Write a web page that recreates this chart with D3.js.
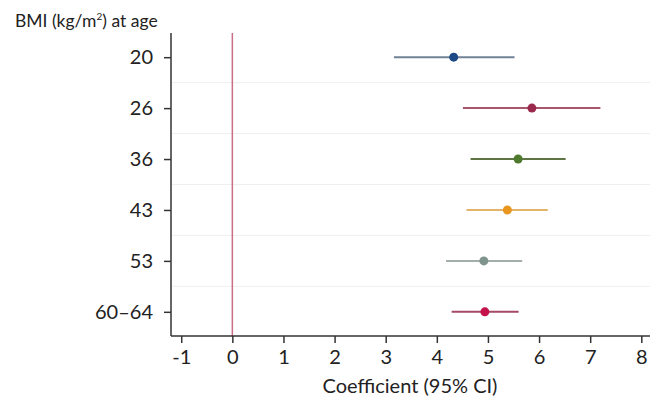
<!DOCTYPE html>
<html><head><meta charset="utf-8">
<script src="https://cdn.jsdelivr.net/npm/d3@7"></script>
<style>
body{margin:0;background:#fff;}
text{font-family:Lato,"Open Sans",sans-serif;fill:#222;}
</style></head>
<body><svg id="c" width="654" height="401"></svg>
<script>
const categories = ["20","26","36","43","53","60\u201364"];
const estimates  = [4.33, 5.86, 5.59, 5.38, 4.92, 4.94];
const lowerCI    = [3.16, 4.51, 4.66, 4.58, 4.18, 4.29];
const upperCI    = [5.52, 7.20, 6.52, 6.17, 5.67, 5.60];
const dotColors  = ["#1d4a86","#9a2a4c","#4f7a2e","#e8961e","#7f948c","#c4124a"];
const lineColors = ["#6f8296","#a8566e","#5e7444","#e2b46a","#a3aeab","#a64866"];
const xTicks = [-1,0,1,2,3,4,5,6,7,8];

const svg = d3.select("#c");
const x = d3.scaleLinear().domain([-1.2, 8.17]).range([171, 650]);
const y = d3.scalePoint().domain(categories).range([33, 336]).padding(0.475);
const step = y.step();

svg.append("g").selectAll("line").data(categories.slice(0,-1)).join("line")
  .attr("x1", 172).attr("x2", 650)
  .attr("y1", d => y(d) + step/2).attr("y2", d => y(d) + step/2)
  .attr("stroke", "#efefef").attr("stroke-width", 1);

svg.append("line").attr("x1", x(0)).attr("x2", x(0)).attr("y1", 33).attr("y2", 336)
  .attr("stroke", "#cc6c86").attr("stroke-width", 1.5);

const data = categories.map((c,i)=>({c, est:estimates[i], lo:lowerCI[i], hi:upperCI[i], dc:dotColors[i], lc:lineColors[i]}));
svg.append("g").selectAll("line").data(data).join("line")
  .attr("x1", d => x(d.lo)).attr("x2", d => x(d.hi))
  .attr("y1", d => y(d.c)).attr("y2", d => y(d.c))
  .attr("stroke", d => d.lc).attr("stroke-width", 2);
svg.append("g").selectAll("circle").data(data).join("circle")
  .attr("cx", d => x(d.est)).attr("cy", d => y(d.c)).attr("r", 4.5)
  .attr("fill", d => d.dc);

const xAxis = d3.axisBottom(x).tickValues(xTicks).tickSize(7).tickPadding(7).tickFormat(d => String(d));
const gx = svg.append("g").attr("transform", "translate(0,336)").call(xAxis);
gx.select(".domain").attr("d", "M171,0H650").attr("stroke", "#333").attr("stroke-width", 1.5);
gx.selectAll(".tick line").attr("stroke", "#333").attr("stroke-width", 1.5);
gx.selectAll("text").attr("font-size", 20).attr("fill", "#222").style("font-family","Lato,sans-serif");

const yAxis = d3.axisLeft(y).tickSize(7).tickPadding(11);
const gy = svg.append("g").attr("transform", "translate(171,0)").call(yAxis);
gy.select(".domain").attr("d", "M0,33V336").attr("stroke", "#333").attr("stroke-width", 1.5);
gy.selectAll(".tick line").attr("stroke", "#333").attr("stroke-width", 1.5);
gy.selectAll("text").attr("font-size", 20).attr("fill", "#222").style("font-family","Lato,sans-serif");

const yt = svg.append("text").attr("x", 15).attr("y", 27).attr("font-size", 17.5);
yt.append("tspan").text("BMI (kg/m");
yt.append("tspan").attr("font-size", 10).attr("dy", -7).text("2");
yt.append("tspan").attr("dy", 7).text(") at age");

svg.append("text").attr("x", 410).attr("y", 393).attr("text-anchor", "middle")
  .attr("font-size", 20).text("Coefficient (95% CI)");
</script></body></html>
